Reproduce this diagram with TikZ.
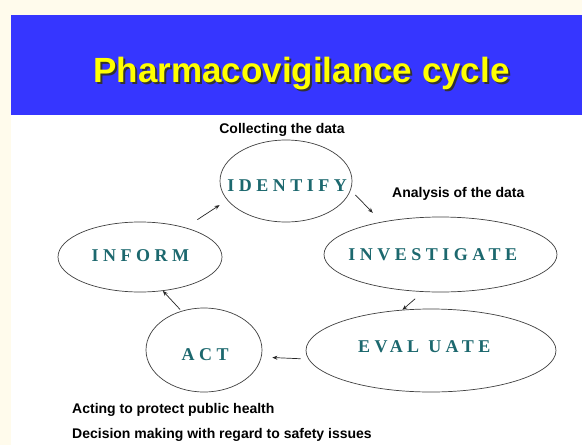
\documentclass[tikz,border=0pt]{standalone}
\usepackage{fontspec}
\setmainfont{Liberation Serif}
\setsansfont{Liberation Sans}
\usetikzlibrary{arrows.meta,shapes.geometric}

\definecolor{pagecream}{RGB}{255,251,236}
\definecolor{bandblue}{RGB}{54,54,255}
\definecolor{titleyellow}{RGB}{255,255,0}
\definecolor{stageteal}{RGB}{28,104,110}

\newcommand\titlefont{\sffamily\bfseries\fontsize{35}{40}\selectfont}
\newcommand\notefont{\sffamily\bfseries\fontsize{14}{16}\selectfont}
\newcommand\stagefont{\rmfamily\bfseries\fontsize{18}{20}\selectfont\addfontfeature{LetterSpace=25}}
% stage names sit in a zero-width box so that only the minimum sizes shape the ellipse;
% the optional kern nudges a name sideways by half its length
\newcommand\stagename[2][4.5pt]{\makebox[0pt]{\hspace{#1}#2}}
\newcommand\shadowed[1]{\makebox[0pt][l]{\hspace{2pt}\raisebox{-2pt}{\color{black!80}#1}}#1}

\tikzset{
 stage/.style={ellipse,draw=black!75,line width=0.7pt,font=\stagefont,text=stageteal,inner sep=0pt},
 note/.style={font=\notefont,inner sep=0pt},
 flow/.style={-{Stealth[length=5pt,width=4pt]},line width=0.7pt,black!85},
}

\begin{document}
\begin{tikzpicture}[x=1pt,y=-1pt]
\useasboundingbox (0,0) rectangle (582,445);
\fill[pagecream] (0,0) rectangle (582,445);
\fill[white] (11,115) rectangle (582,445);
\fill[bandblue] (11,15) rectangle (582,115);

% heading with its drop shadow
\node[font=\titlefont,text=titleyellow,anchor=base] (title) at (301.5,82) {\shadowed{Pharmacovigilance cycle}};

% the five stages
\node[stage,minimum width=132pt,minimum height=82pt,text height=21.9pt,text depth=0pt] (identify) at (286,181) {\stagename[2.5pt]{IDENTIFY}};
\node[stage,minimum width=233pt,minimum height=75pt] (investigate) at (440.5,254.5) {\stagename[-15.5pt]{INVESTIGATE}};
\node[stage,minimum width=250pt,minimum height=83pt,text height=11.9pt,text depth=7pt] (evaluate) at (431,350.5) {\stagename[-13.5pt]{EVAL UATE}};
\node[stage,minimum width=116pt,minimum height=84pt,text height=21.9pt,text depth=0pt] (act) at (204,350) {\stagename[2.5pt]{ACT}};
\node[stage,minimum width=164pt,minimum height=70pt,text height=11.9pt,text depth=3pt] (inform) at (140,257) {\stagename[0.5pt]{INFORM}};

% notes
\node[note,anchor=base] (collect) at (282,133) {Collecting the data};
\node[note,anchor=base west] (analyse) at (392,197) {Analysis of the data};
\node[note,anchor=base west] (protect) at (72,413) {Acting to protect public health};
\node[note,anchor=base west] (decide) at (72,438) {Decision making with regard to safety issues};

% cycle arrows
\draw[flow,shorten <=6.7pt,shorten >=12.6pt] (identify.-8) -- (investigate.151.8);
\draw[flow,shorten <=10.5pt] (investigate.-115.7) -- (evaluate.125);
\draw[flow,shorten <=7.8pt,shorten >=10.8pt] (evaluate.-176.9) -- (act.-7);
\draw[flow,shorten <=1.9pt] (act.120.5) -- (inform.-56.2);
\draw[flow,shorten <=14.3pt,shorten >=9.1pt] (inform.33) -- (identify.198.1);
\end{tikzpicture}
\end{document}
